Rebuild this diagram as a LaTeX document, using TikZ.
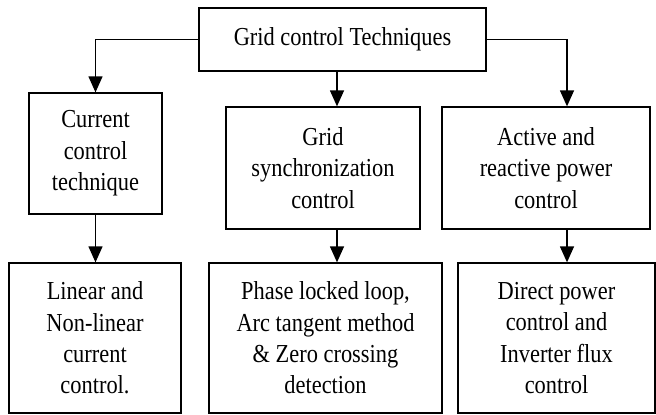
\documentclass[tikz,border=0pt]{standalone}
\usepackage{fontspec}
\setmainfont{Liberation Serif}[FakeStretch=0.865]
\usetikzlibrary{arrows.meta}
\begin{document}
\begin{tikzpicture}[x=1bp,y=-1bp,
  box/.style={draw, line width=1.3bp, align=center, inner sep=0pt,
    font=\fontsize{26}{31.5}\selectfont},
  arr/.style={line width=1.3bp, -{Triangle[length=16bp,width=14bp]}}]
\useasboundingbox (0,0) rectangle (656,414);
\node[box, minimum width=287bp, minimum height=63bp] (top) at (342.5,39.5) {Grid control Techniques};
\node[box, minimum width=133bp, minimum height=121bp] (c1) at (95.5,153.5) {Current\\control\\technique};
\node[box, minimum width=194bp, minimum height=122bp] (c2) at (323,168) {Grid\\synchronization\\control};
\node[box, minimum width=208bp, minimum height=122bp] (c3) at (546,168) {Active and\\reactive power\\control};
\node[box, minimum width=172bp, minimum height=150bp] (b1) at (95,338) {Linear and\\Non-linear\\current\\control.};
\node[box, minimum width=233bp, minimum height=150bp] (b2) at (325.5,338) {Phase locked loop,\\Arc tangent method\\\& Zero crossing\\detection};
\node[box, minimum width=197bp, minimum height=150bp] (b3) at (556.5,338) {Direct power\\control and\\Inverter flux\\control};
\coordinate (m) at (337,0);
\coordinate (r) at (567,0);
\draw[arr] (top.west) -| (c1.north);
\draw[arr] (top.south -| m) -- (c2.north -| m);
\draw[arr] (top.east) -| (c3.north -| r);
\draw[arr] (c1.south) -- (c1.south |- b1.north);
\draw[arr] (c2.south -| m) -- (b2.north -| m);
\draw[arr] (c3.south -| r) -- (b3.north -| r);
\end{tikzpicture}
\end{document}
